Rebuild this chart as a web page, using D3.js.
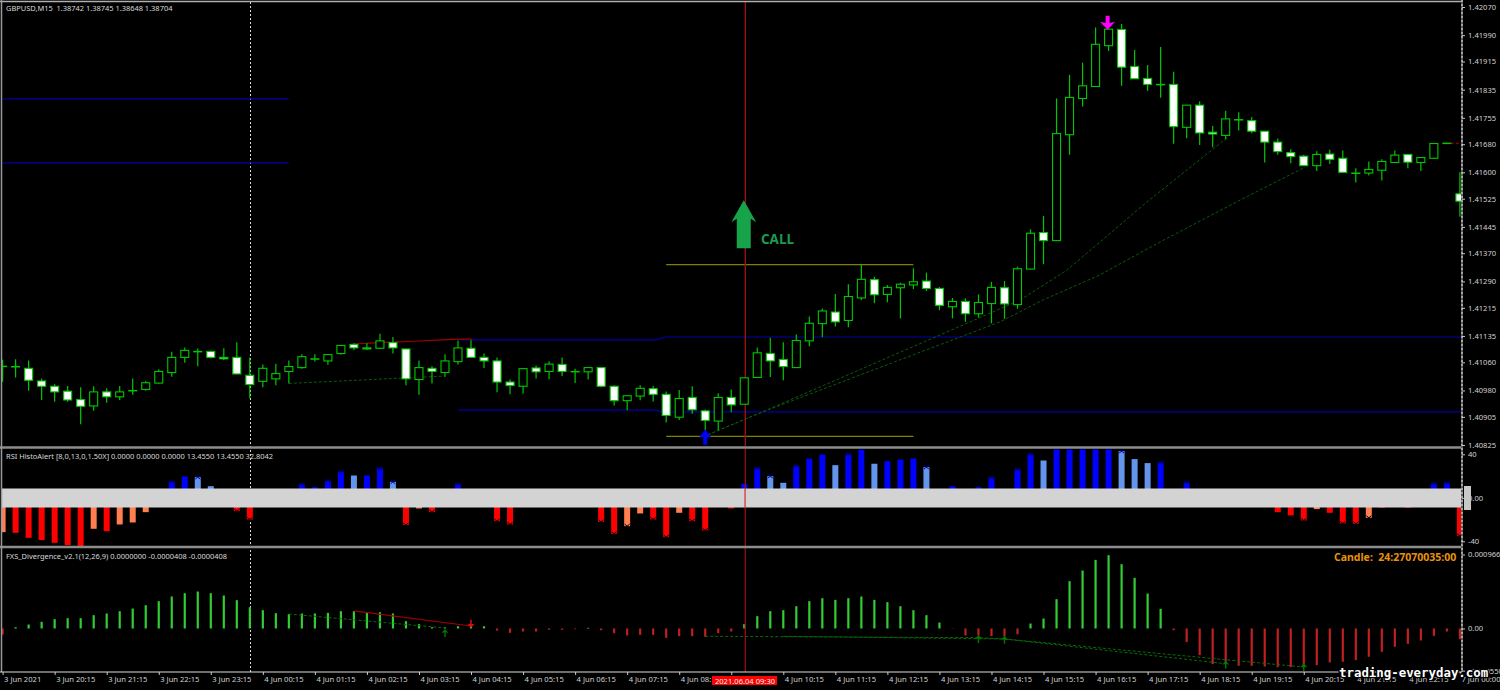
<!DOCTYPE html>
<html><head><meta charset="utf-8">
<script src="https://cdn.jsdelivr.net/npm/d3@7/dist/d3.min.js"></script>
<style>html,body{margin:0;padding:0;background:#000}svg{display:block}text{font-family:"Noto Sans",sans-serif}</style>
</head><body><svg id="c" width="1500" height="690"></svg>
<script>
// OHLC (index 0 = 3 Jun 2021 19:15, 15-minute bars)
const opens=[1.41049,1.41048,1.41043,1.41007,1.40992,1.40978,1.40954,1.40936,1.40976,1.40962,1.40980,1.40983,1.41001,1.41031,1.41074,1.41091,1.41091,1.41074,1.41074,1.41023,1.41006,1.41013,1.41034,1.41045,1.41070,1.41064,1.41085,1.41111,1.41101,1.41100,1.41116,1.41098,1.41011,1.41043,1.41031,1.41062,1.41100,1.41074,1.41064,1.41004,1.40992,1.41044,1.41034,1.41054,1.41034,1.41033,1.41045,1.40992,1.40951,1.40964,1.40985,1.40969,1.40904,1.40960,1.40922,1.40893,1.40960,1.40941,1.41017,1.41085,1.41068,1.41045,1.41121,1.41170,1.41203,1.41179,1.41243,1.41295,1.41253,1.41272,1.41280,1.41291,1.41270,1.41218,1.41233,1.41198,1.41227,1.41272,1.41224,1.41325,1.41429,1.41406,1.41707,1.41810,1.41844,1.41960,1.42006,1.41901,1.41867,1.41850,1.41850,1.41728,1.41791,1.41714,1.41705,1.41750,1.41747,1.41717,1.41686,1.41656,1.41646,1.41619,1.41652,1.41640,1.41598,1.41598,1.41606,1.41628,1.41651,1.41628,1.41640,1.41683,1.41539];
const highs=[1.41067,1.41069,1.41065,1.41014,1.40998,1.40993,1.40989,1.40992,1.40986,1.40993,1.41014,1.41007,1.41040,1.41090,1.41102,1.41099,1.41093,1.41100,1.41117,1.41074,1.41054,1.41056,1.41065,1.41083,1.41083,1.41082,1.41108,1.41114,1.41114,1.41141,1.41132,1.41098,1.41065,1.41049,1.41083,1.41121,1.41123,1.41085,1.41074,1.41011,1.41042,1.41051,1.41063,1.41074,1.41042,1.41045,1.41045,1.40994,1.40965,1.40995,1.40993,1.40977,1.40981,1.40992,1.40926,1.40972,1.40983,1.41016,1.41102,1.41130,1.41117,1.41139,1.41190,1.41213,1.41254,1.41282,1.41339,1.41303,1.41280,1.41286,1.41327,1.41315,1.41274,1.41243,1.41242,1.41253,1.41289,1.41291,1.41332,1.41438,1.41476,1.41810,1.41877,1.41912,1.42012,1.42007,1.42022,1.41948,1.41905,1.41956,1.41886,1.41791,1.41802,1.41732,1.41775,1.41771,1.41757,1.41717,1.41696,1.41666,1.41650,1.41660,1.41664,1.41662,1.41612,1.41631,1.41637,1.41662,1.41652,1.41642,1.41682,1.41683,1.41600];
const lows=[1.41005,1.41017,1.40979,1.40953,1.40948,1.40948,1.40884,1.40922,1.40945,1.40953,1.40968,1.40979,1.41000,1.41019,1.41059,1.41049,1.41071,1.41066,1.41026,1.40957,1.40989,1.40995,1.41000,1.41042,1.41062,1.41053,1.41082,1.41095,1.41095,1.41098,1.41085,1.40995,1.40968,1.41000,1.41019,1.41054,1.41073,1.41044,1.40975,1.40969,1.40971,1.41014,1.41012,1.41021,1.41001,1.41011,1.40989,1.40937,1.40924,1.40952,1.40949,1.40889,1.40896,1.40914,1.40867,1.40867,1.40918,1.40940,1.41016,1.41018,1.41009,1.41044,1.41106,1.41131,1.41162,1.41160,1.41237,1.41228,1.41231,1.41185,1.41268,1.41263,1.41208,1.41185,1.41175,1.41187,1.41171,1.41184,1.41212,1.41324,1.41339,1.41406,1.41650,1.41787,1.41844,1.41945,1.41846,1.41866,1.41831,1.41812,1.41681,1.41697,1.41678,1.41671,1.41694,1.41719,1.41711,1.41628,1.41650,1.41626,1.41619,1.41604,1.41624,1.41599,1.41571,1.41591,1.41577,1.41628,1.41612,1.41604,1.41639,1.41683,1.41474];
const closes=[1.41048,1.41048,1.41009,1.40992,1.40976,1.40953,1.40935,1.40976,1.40962,1.40976,1.40980,1.41002,1.41034,1.41074,1.41094,1.41091,1.41074,1.41070,1.41027,1.40997,1.41043,1.41028,1.41048,1.41076,1.41070,1.41082,1.41108,1.41101,1.41098,1.41121,1.41101,1.41013,1.41045,1.41034,1.41064,1.41101,1.41074,1.41064,1.41004,1.40994,1.41042,1.41033,1.41055,1.41034,1.41034,1.41045,1.40992,1.40951,1.40965,1.40986,1.40969,1.40909,1.40957,1.40925,1.40895,1.40960,1.40939,1.41016,1.41087,1.41064,1.41048,1.41122,1.41171,1.41206,1.41175,1.41247,1.41296,1.41252,1.41273,1.41282,1.41289,1.41270,1.41222,1.41233,1.41198,1.41230,1.41273,1.41226,1.41326,1.41427,1.41406,1.41710,1.41813,1.41846,1.41964,1.42007,1.41899,1.41866,1.41850,1.41850,1.41730,1.41791,1.41712,1.41709,1.41752,1.41750,1.41717,1.41686,1.41659,1.41645,1.41619,1.41651,1.41637,1.41600,1.41598,1.41608,1.41631,1.41649,1.41629,1.41642,1.41682,1.41683,1.41518];

// RSI histogram (0 = hidden behind the grey band); listed indices use the light shade
const rsiValues=[-31.6,-32.2,-36.8,-38.9,-41.4,-43.5,-44.4,-28.5,-30.7,-24.5,-22.7,-13.2,0,14.7,19.6,19,10.7,0,-12.3,-19.9,0,0,0,12.3,9.8,15.3,23.9,20.5,20.5,27,14.7,-25,-9.8,-13.2,0,12.3,0,0,-21.5,-24.5,0,0,0,0,0,0,-22.1,-33.1,-26.1,-14.4,-19.9,-36.2,-13.8,-21.5,-30,0,-9.8,12.9,27,19.9,13.8,29.1,35.9,39.8,30,39.8,44.4,31.3,33.7,35.2,36.2,28.2,0,10.7,0,9.8,18.4,0,26,39.8,34.3,50,50,50,52,50,42.9,35.6,31.9,32.2,0,13.8,0,0,0,0,0,0,-13.2,-16.2,-20.8,-10.4,-13.8,-23.6,-23.9,-18.4,-9.2,0,-9.2,0,12.9,13.5,-35];
const rsiLight=[0,7,9,10,11,15,16,27,30,32,48,49,52,59,60,64,67,71,80,86,87,88,101,105];
const rsiMarks=[13,15,23,25,26,29,30,35,58,59,61,65,71,76,78,79,86,89,91,110,111,18,19,31,33,38,39,46,47,48,50,51,53,54,100,103,104,105,112];

// MACD-style histogram, in millionths
const macdValues=[-78,17,52,87,122,135,135,174,196,226,261,304,357,418,461,483,461,431,370,278,239,200,187,196,196,204,226,226,213,213,196,96,57,17,13,30,43,30,-26,-57,-39,-39,-17,-17,-9,9,-22,-61,-91,-83,-83,-122,-100,-100,-109,-61,-39,57,161,226,239,291,357,396,374,396,418,374,344,291,239,174,78,-4,-91,-91,-100,-100,-74,65,130,383,618,757,896,957,840,661,457,257,-22,-178,-348,-465,-457,-487,-487,-496,-505,-505,-505,-479,-444,-435,-413,-370,-305,-239,-200,-157,-96,-39,-139];

// horizontal levels
const blueStep=[[[35,1.41124],[50.2,1.41124],[50.9,1.41132],[113,1.41132]],[[35,1.40924],[50.2,1.40924],[50.6,1.40919],[113,1.40919]]];
const blueFlat=[[[0,1.41809],[22,1.41809]],[[0,1.41627],[22,1.41627]]];
const yellowLevels=[[51,70,1.41339],[51,70,1.40851]];

// trend lines on the price pane
const divPriceA=[[22,1.41000],[34,1.41021]];
const divPriceB=[[54.2,1.40854],[58.2,1.40916],[71.5,1.41129],[78.2,1.41237],[81.8,1.41322],[87.95,1.41516],[94.1,1.41698]];
const divPriceC=[[54.2,1.40854],[58.2,1.40916],[73.6,1.41132],[76.65,1.41175],[79.95,1.41237],[84.3,1.41308],[88.95,1.41402],[95.1,1.41521],[100.1,1.41615]];
const redPrice=[[27,1.41112],[29,1.41116],[31.6,1.41120],[33.4,1.41123],[35.2,1.41126],[36.1,1.41126]];

// trend lines on the lower pane (millionths)
const macdRed=[[27,229],[36,33]];
const macdDivA=[[22,189],[34,7]];
const macdDivB=[[54,-102],[75,-120],[77,-137],[94,-460]];
const macdDivC=[[60,-102],[77,-137],[100,-503]];
const upMarks=[[34,-5],[75,-85],[77,-95],[94,-420],[100,-455]];

const priceTicks=[1.42070,1.41990,1.41915,1.41835,1.41755,1.41680,1.41600,1.41525,1.41445,1.41370,1.41290,1.41215,1.41135,1.41060,1.40980,1.40905,1.40825];
const rsiTicks=[40,0,-40];
const macdTicks=[966.4,0,-550];
const macdTickLabels=["0.0009664","0.00","-0.000550"];
const timeIdx=[0,4,8,12,16,20,24,28,32,36,40,44,48,52,56,60,64,68,72,76,80,84,88,92,96,100,104,108,112];
const timeLabels=["3 Jun 2021","3 Jun 20:15","3 Jun 21:15","3 Jun 22:15","3 Jun 23:15","4 Jun 00:15","4 Jun 01:15","4 Jun 02:15","4 Jun 03:15","4 Jun 04:15","4 Jun 05:15","4 Jun 06:15","4 Jun 07:15","4 Jun 08:15","","4 Jun 10:15","4 Jun 11:15","4 Jun 12:15","4 Jun 13:15","4 Jun 14:15","4 Jun 15:15","4 Jun 16:15","4 Jun 17:15","4 Jun 18:15","4 Jun 19:15","4 Jun 20:15","4 Jun 21:15","4 Jun 22:15","7 Jun 00:00"];

const svg=d3.select("#c");
const x=d3.scaleLinear().domain([0,112]).range([2.6,1459.9]);
const yP=d3.scaleLinear().domain([1.42070,1.40825]).range([7,445]);
const yR=d3.scaleLinear().domain([40,-40]).range([454.3,541.3]);
const yM=d3.scaleLinear().domain([966.4,0]).range([554.5,628.5]);
const RIGHT=1461;

const defs=svg.append("defs");
function clip(id,y0,y1){defs.append("clipPath").attr("id",id).append("rect").attr("x",2).attr("y",y0).attr("width",RIGHT-2).attr("height",y1-y0);}
clip("cp",2,446);clip("cr",449.5,546);clip("cm",549,671);

const gVert=svg.append("g");
gVert.append("line").attr("x1",250.5).attr("x2",250.5).attr("y1",2).attr("y2",672).attr("stroke","#d8d8d8").attr("stroke-width",1).attr("stroke-dasharray","2 2");

const line=(ys)=>d3.line().x(d=>x(d[0])).y(d=>ys(d[1]));
const pane=svg.append("g").attr("clip-path","url(#cp)");
blueFlat.concat(blueStep).forEach(l=>pane.append("path").attr("d",line(yP)(l)).attr("fill","none").attr("stroke","#0000a8").attr("stroke-width",1.2));
yellowLevels.forEach(l=>pane.append("line").attr("x1",x(l[0])).attr("x2",x(l[1])).attr("y1",yP(l[2])+.5).attr("y2",yP(l[2])+.5).attr("stroke","#808000").attr("stroke-width",1.3));
pane.append("path").attr("d",line(yP)(redPrice)).attr("fill","none").attr("stroke","#a00000").attr("stroke-width",1.1);
[divPriceA,divPriceB,divPriceC].forEach(l=>pane.append("path").attr("d",line(yP)(l)).attr("fill","none").attr("stroke","#0a5a0a").attr("stroke-width",1).attr("stroke-dasharray","3 2"));

const redX=745.3, RED="#9c1010";
pane.append("line").attr("x1",redX).attr("x2",redX).attr("y1",2).attr("y2",446).attr("stroke",RED).attr("stroke-width",1.4);

// candles
const idx=d3.range(opens.length);
const GREEN="#00c800";
pane.selectAll("line.w").data(idx).join("line").attr("class","w")
 .attr("x1",i=>x(i)).attr("x2",i=>x(i)).attr("y1",i=>yP(highs[i])).attr("y2",i=>yP(lows[i]))
 .attr("stroke",GREEN).attr("stroke-width",1.2);
pane.selectAll("rect.b").data(idx).join("rect").attr("class","b")
 .attr("x",i=>x(i)-4).attr("width",8)
 .attr("y",i=>yP(Math.max(opens[i],closes[i])))
 .attr("height",i=>Math.max(0.4,yP(Math.min(opens[i],closes[i]))-yP(Math.max(opens[i],closes[i]))))
 .attr("fill",i=>closes[i]>=opens[i]?"#000":"#fff")
 .attr("stroke",GREEN).attr("stroke-width",1.1);
pane.append("line").attr("x1",x(111)+4).attr("x2",RIGHT).attr("y1",yP(closes[111])).attr("y2",yP(closes[111])).attr("stroke","#c00000").attr("stroke-dasharray","3 2");

function arrow(g,cx,tip,len,hw,hh,sw,color){ // len>0 points up, len<0 points down
 const d=Math.sign(len),L=Math.abs(len);
 g.append("path").attr("fill",color).attr("d",d3.line()([[cx,tip],[cx+hw/2,tip+d*hh],[cx+sw/2,tip+d*hh*.85],[cx+sw/2,tip+d*L],[cx-sw/2,tip+d*L],[cx-sw/2,tip+d*hh*.85],[cx-hw/2,tip+d*hh]])+"Z");
}
arrow(pane,x(54),yP(1.40868),15,13,8,4,"#0000ff");
arrow(pane,x(85)-1,yP(1.42005),-14,15,8,4,"#ff00ff");
arrow(pane,x(57)-.5,yP(1.41521),48,25,22,14,"#16a34a");
svg.append("text").attr("x",761).attr("y",244).attr("font-size",13.5).attr("font-weight",700).attr("fill","#1a9c50").style("font-family","'Open Sans'").text("CALL");

// RSI pane
const rp=svg.append("g").attr("clip-path","url(#cr)");
const rsiColor=(i)=>{const v=rsiValues[i],l=rsiLight.includes(i);return v>=0?(l?"#6495ed":"#0000ff"):(l?"#ff7f50":"#ff0000");};
rp.selectAll("rect").data(idx).join("rect")
 .attr("x",i=>x(i)-3).attr("width",6)
 .attr("y",i=>Math.min(yR(rsiValues[i]),yR(0)))
 .attr("height",i=>Math.abs(yR(rsiValues[i])-yR(0)))
 .attr("fill",rsiColor);
rp.selectAll("path.x").data(rsiMarks).join("path").attr("class","x")
 .attr("d",i=>{const X=x(i),Y=yR(rsiValues[i]);return `M${X-2.5},${Y-2}L${X+2.5},${Y+2}M${X+2.5},${Y-2}L${X-2.5},${Y+2}`;})
 .attr("stroke",i=>rsiValues[i]>0?"#0000a0":"#000").attr("stroke-width",1).attr("fill","none");
svg.append("rect").attr("x",2).attr("y",488.5).attr("width",RIGHT-2).attr("height",19).attr("fill","#d3d3d3");

// MACD pane
const mp=svg.append("g").attr("clip-path","url(#cm)");
mp.selectAll("line.h").data(idx).join("line").attr("class","h")
 .attr("x1",i=>x(i)).attr("x2",i=>x(i)).attr("y1",yM(0)).attr("y2",i=>yM(macdValues[i]))
 .attr("stroke",i=>macdValues[i]>=0?"#32cd32":"#c02020").attr("stroke-width",2.2);
mp.append("path").attr("d",line(yM)(macdRed)).attr("fill","none").attr("stroke","#a00000").attr("stroke-width",1.2);
[macdDivA,macdDivB,macdDivC].forEach(l=>mp.append("path").attr("d",line(yM)(l)).attr("fill","none").attr("stroke","#0a6a0a").attr("stroke-width",1).attr("stroke-dasharray","3 2"));
upMarks.forEach(m=>arrow(mp,x(m[0]),yM(m[1]),8,7,4,1.4,"#007a00"));
arrow(mp,x(36),yM(10),-8,7,4,1.4,"#e01010");

svg.append("line").attr("x1",redX).attr("x2",redX).attr("y1",449).attr("y2",672).attr("stroke",RED).attr("stroke-width",1.4).attr("opacity",.9);
svg.append("line").attr("x1",redX).attr("x2",redX).attr("y1",488.5).attr("y2",507.5).attr("stroke","#e06060").attr("stroke-width",1.4);

// frame
const FR="#8c8c8c";
[[0,1461,1.5,1.5,"#b0b0b0",1.5],[0,1461,447.5,447.5,FR,2.5],[0,1461,547,547,FR,2.5],[1.5,1.5,0,672,"#9a9a9a",1.5]].forEach(f=>
 svg.append("line").attr("x1",f[0]).attr("x2",f[1]).attr("y1",f[2]).attr("y2",f[3]).attr("stroke",f[4]).attr("stroke-width",f[5]));
svg.append("line").attr("x1",1462).attr("x2",1462).attr("y1",0).attr("y2",672).attr("stroke","#9a9a9a").attr("stroke-width",1.2);
svg.append("line").attr("x1",1462).attr("x2",1462).attr("y1",0).attr("y2",672).attr("stroke","#eee").attr("stroke-width",1).attr("stroke-dasharray","2 2");

// axes
function styleAxis(g){g.select(".domain").remove();g.selectAll("line").attr("stroke","#c8c8c8");g.selectAll("text").attr("fill","#d0d0d0").style("font-size","7.6px").style("font-family","'Noto Sans'");}
svg.append("g").attr("transform","translate(1462,0)").call(d3.axisRight(yP).tickValues(priceTicks).tickFormat(d3.format(".5f")).tickSize(3).tickPadding(3)).call(styleAxis);
svg.append("g").attr("transform","translate(1462,0)").call(d3.axisRight(yR).tickValues(rsiTicks).tickFormat(d=>d===0?"0.00":d).tickSize(3).tickPadding(3)).call(styleAxis);
svg.append("g").attr("transform","translate(1462,0)").call(d3.axisRight(yM).tickValues(macdTicks).tickFormat((d,i)=>macdTickLabels[i]).tickSize(3).tickPadding(3)).call(styleAxis);
svg.append("rect").attr("x",1464).attr("y",486).attr("width",7).attr("height",24).attr("fill","#c8c8c8");

const tAxis=svg.append("g").attr("transform","translate(0,672)").call(d3.axisBottom(x).tickValues(timeIdx).tickFormat((d,i)=>timeLabels[i]).tickSize(3).tickPadding(3)).call(styleAxis);
tAxis.selectAll("text").attr("text-anchor","start").attr("dx",1).attr("dy","0.55em");
svg.append("line").attr("x1",0).attr("x2",1462).attr("y1",672).attr("y2",672).attr("stroke","#dcdcdc").attr("stroke-width",1);

svg.append("rect").attr("x",712).attr("y",676).attr("width",65).attr("height",9).attr("fill","#ff0000");
svg.append("text").attr("x",745).attr("y",683.5).attr("text-anchor","middle").attr("font-size",7.6).attr("fill","#eee").text("2021.06.04 09:30");

// titles
const T=(s,xx,yy)=>svg.append("text").attr("x",xx).attr("y",yy).attr("font-size",7.45).attr("fill","#d8d8d8").style("white-space","pre").text(s);
T("GBPUSD,M15  1.38742 1.38745 1.38648 1.38704",6,11);
T("RSI HistoAlert [8,0,13,0,1.50X] 0.0000 0.0000 0.0000 13.4550 13.4550 32.8042",6,459);
T("FXS_Divergence_v2.1(12,26,9) 0.0000000 -0.0000408 -0.0000408",6,559);
svg.append("text").attr("x",1334).attr("y",561).attr("font-size",10.5).attr("font-weight",700).attr("fill","#e8930c").style("white-space","pre").text("Candle:  24:27070035:00");
svg.append("text").attr("x",1339).attr("y",677).attr("font-size",12.4).attr("font-weight",700).attr("fill","#fff").attr("stroke","#000").attr("stroke-width",2.5).attr("paint-order","stroke").style("font-family","'DejaVu Sans Mono'").text("trading-everyday.com");
</script></body></html>
